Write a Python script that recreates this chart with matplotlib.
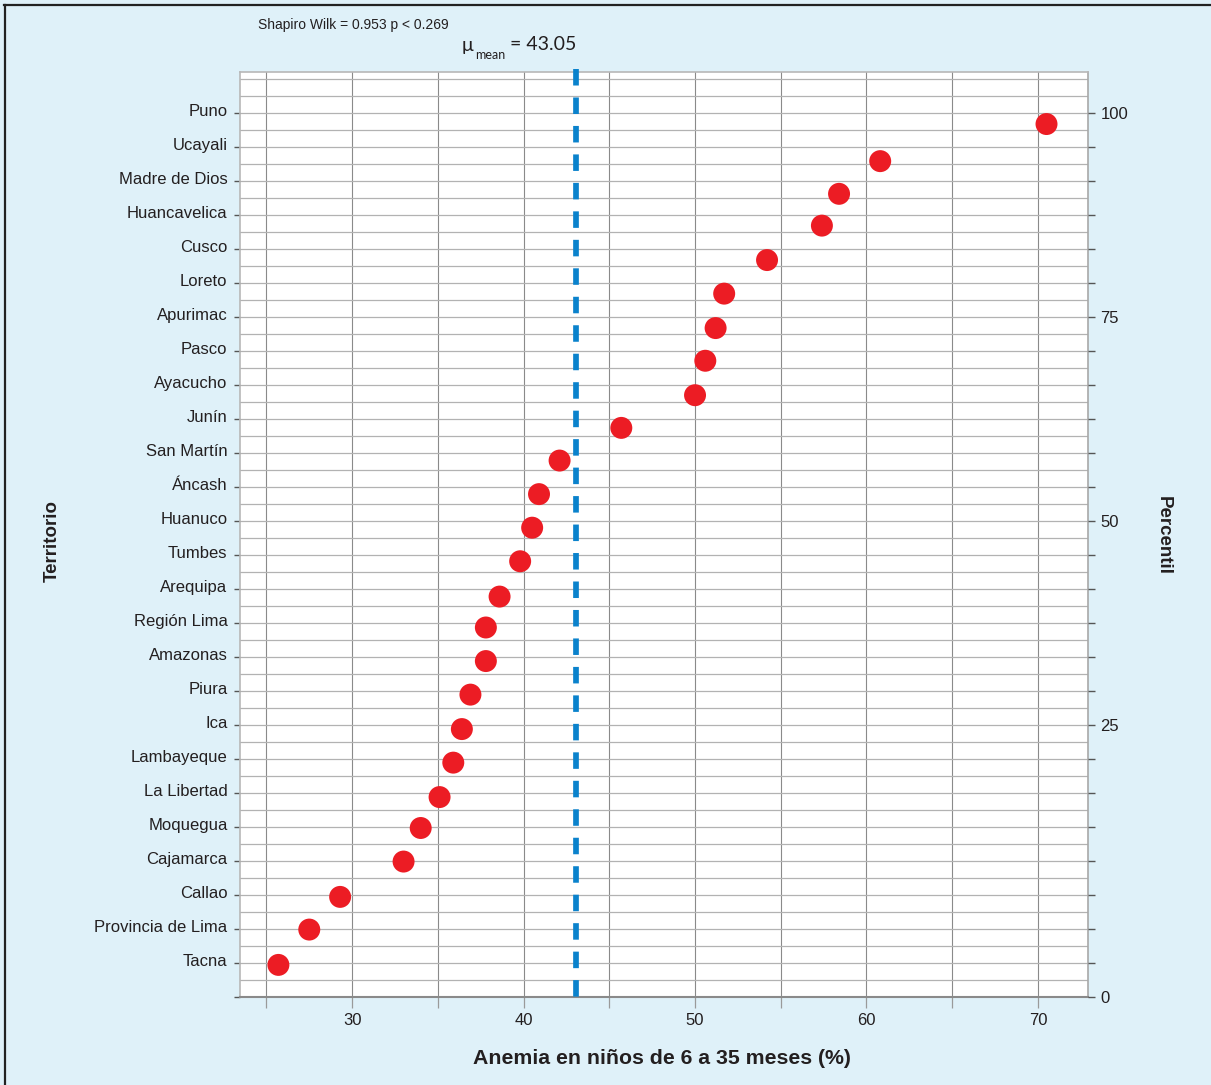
import matplotlib
matplotlib.use("Agg")
import matplotlib.pyplot as plt
import matplotlib.transforms as mtransforms
import numpy as np

# ---------------- data ----------------
territorios = ["Puno", "Ucayali", "Madre de Dios", "Huancavelica", "Cusco", "Loreto",
               "Apurimac", "Pasco", "Ayacucho", "Junín", "San Martín", "Áncash",
               "Huanuco", "Tumbes", "Arequipa", "Región Lima", "Amazonas", "Piura",
               "Ica", "Lambayeque", "La Libertad", "Moquegua", "Cajamarca", "Callao",
               "Provincia de Lima", "Tacna"]
anemia = [70.5, 60.8, 58.4, 57.4, 54.2, 51.7, 51.2, 50.6, 50.0, 45.7, 42.1, 40.9,
          40.5, 39.8, 38.6, 37.8, 37.8, 36.9, 36.4, 35.9, 35.1, 34.0, 33.0, 29.3,
          27.5, 25.7]
percentil = [98.8, 94.6, 90.9, 87.3, 83.4, 79.6, 75.7, 72.0, 68.1, 64.4, 60.7, 56.9,
             53.1, 49.3, 45.3, 41.8, 38.0, 34.2, 30.3, 26.5, 22.6, 19.1, 15.3, 11.3,
             7.6, 3.6]
media = 43.05
shapiro_w = 0.953
shapiro_p = 0.269
x_ticks = [25, 30, 35, 40, 45, 50, 55, 60, 65, 70]
x_ticklabels = ["", "30", "", "40", "", "50", "", "60", "", "70"]
pct_labels = ["0", "25", "50", "75", "100"]
pct_label_rows = ["", "Ica", "Huanuco", "Apurimac", "Puno"]   # row where each label sits

# ---------------- style ----------------
W, H = 1211, 1085
BG = "#DFF1F9"
TXT = "#231F20"
plt.rcParams["font.family"] = ["Liberation Sans", "DejaVu Sans"]

fig = plt.figure(figsize=(W / 100, H / 100), dpi=100, facecolor=BG)

def fx(px):
    return px / W

def fy(py):
    return 1 - py / H

# frame lines (top and left)
fig.add_artist(plt.Line2D([fx(4), 1], [fy(5), fy(5)], color="#222222", lw=1.6))
fig.add_artist(plt.Line2D([fx(4.5), fx(4.5)], [0, fy(5)], color="#222222", lw=1.6))

ax = fig.add_axes([fx(240), fy(996.7), fx(1088) - fx(240), fy(72) - fy(996.7)])
ax.set_facecolor("white")

n = len(territorios)
rows = np.arange(n)[::-1]            # Puno top -> index n-1
ymin, ymax = -1, 26.22
ax.set_ylim(ymin, ymax)
ax.set_xlim(23.46, 72.92)

# y ticks (categories)
ax.set_yticks(list(rows) + [-1])
ax.set_yticklabels(territorios + [""])
ax.set_yticks(np.arange(-0.5, n + 0.5, 0.5), minor=True)
ax.tick_params(axis="y", which="major", length=4, width=1, color="#555555",
               labelsize=12, labelcolor=TXT, pad=5)
ax.tick_params(axis="y", which="minor", length=0)
ax.grid(axis="y", which="both", color="#B2B2B2", lw=0.9, zorder=0)
up = mtransforms.ScaledTranslation(0, 3 / 100, fig.dpi_scale_trans)
for lab in ax.get_yticklabels():
    lab.set_transform(lab.get_transform() + up)

# x ticks
ax.set_xticks(x_ticks)
ax.set_xticklabels(x_ticklabels)
ax.tick_params(axis="x", which="major", length=8, width=0.9, color="#9A9A9A",
               labelsize=12, labelcolor=TXT, pad=4)
ax.grid(axis="x", which="major", color="#8A8A8A", lw=0.8, zorder=0)
ax.set_axisbelow(True)

for s in ["left", "top"]:
    ax.spines[s].set_color("#B8B8B8")
    ax.spines[s].set_linewidth(1.2)
ax.spines["bottom"].set_color("#8A8A8A")
ax.spines["bottom"].set_linewidth(1.5)
ax.spines["right"].set_color("#A8A8A8")
ax.spines["right"].set_linewidth(1.2)

# right axis in percentile units
ax2 = ax.twinx()
pmax = (ymax - ymin) * 100 / n
ax2.set_ylim(0, pmax)
row_pct = [(r + 1) * 100 / n for r in rows] + [0]
ax2.set_yticks(row_pct)
lab_map = {}
for lab, rname in zip(pct_labels, pct_label_rows):
    if rname == "":
        lab_map[0.0] = lab
    else:
        lab_map[(rows[territorios.index(rname)] + 1) * 100 / n] = lab
ax2.set_yticklabels([lab_map.get(v, "") for v in row_pct])
ax2.tick_params(axis="y", length=5, width=1, color="#555555", labelsize=12,
                labelcolor=TXT, pad=4)
for s in ax2.spines.values():
    s.set_visible(False)

# mean line
ax2.plot([media, media], [pmax + 0.35, -0.8], color="#0A82CC", lw=4.1,
         dashes=(2.9, 2.1), clip_on=False, zorder=3, solid_capstyle="butt",
         dash_capstyle="butt")

# points
ax2.scatter(anemia, percentil, s=250, color="#EC1C24", edgecolors="none", zorder=4)

# labels
fig.text(fx(662), fy(1058), "Anemia en niños de 6 a 35 meses (%)", ha="center",
         va="center", fontsize=15.3, fontweight="bold", color=TXT)
fig.text(fx(52), fy(541), "Territorio", rotation=90, ha="center", va="center",
         fontsize=13.5, fontweight="bold", color=TXT)
fig.text(fx(1163), fy(536), "Percentil", rotation=270, ha="center", va="center",
         fontsize=13.5, fontweight="bold", color=TXT)
fig.text(fx(258), fy(24.5), f"Shapiro Wilk = {shapiro_w:.3f} p < {shapiro_p:.3f}",
         ha="left", va="center", fontsize=10, color=TXT)
fig.text(fx(462), fy(45), "μ", ha="left", va="center", fontsize=14,
         family=["Lato", "DejaVu Sans"], color=TXT)
fig.text(fx(475), fy(55), "mean", ha="left", va="center", fontsize=9,
         family=["Lato", "DejaVu Sans"], color=TXT)
fig.text(fx(510), fy(45), f"= {media:.2f}", ha="left", va="center", fontsize=14,
         family=["Lato", "DejaVu Sans"], color=TXT)

fig.savefig("out.png", dpi=100, facecolor=BG)
